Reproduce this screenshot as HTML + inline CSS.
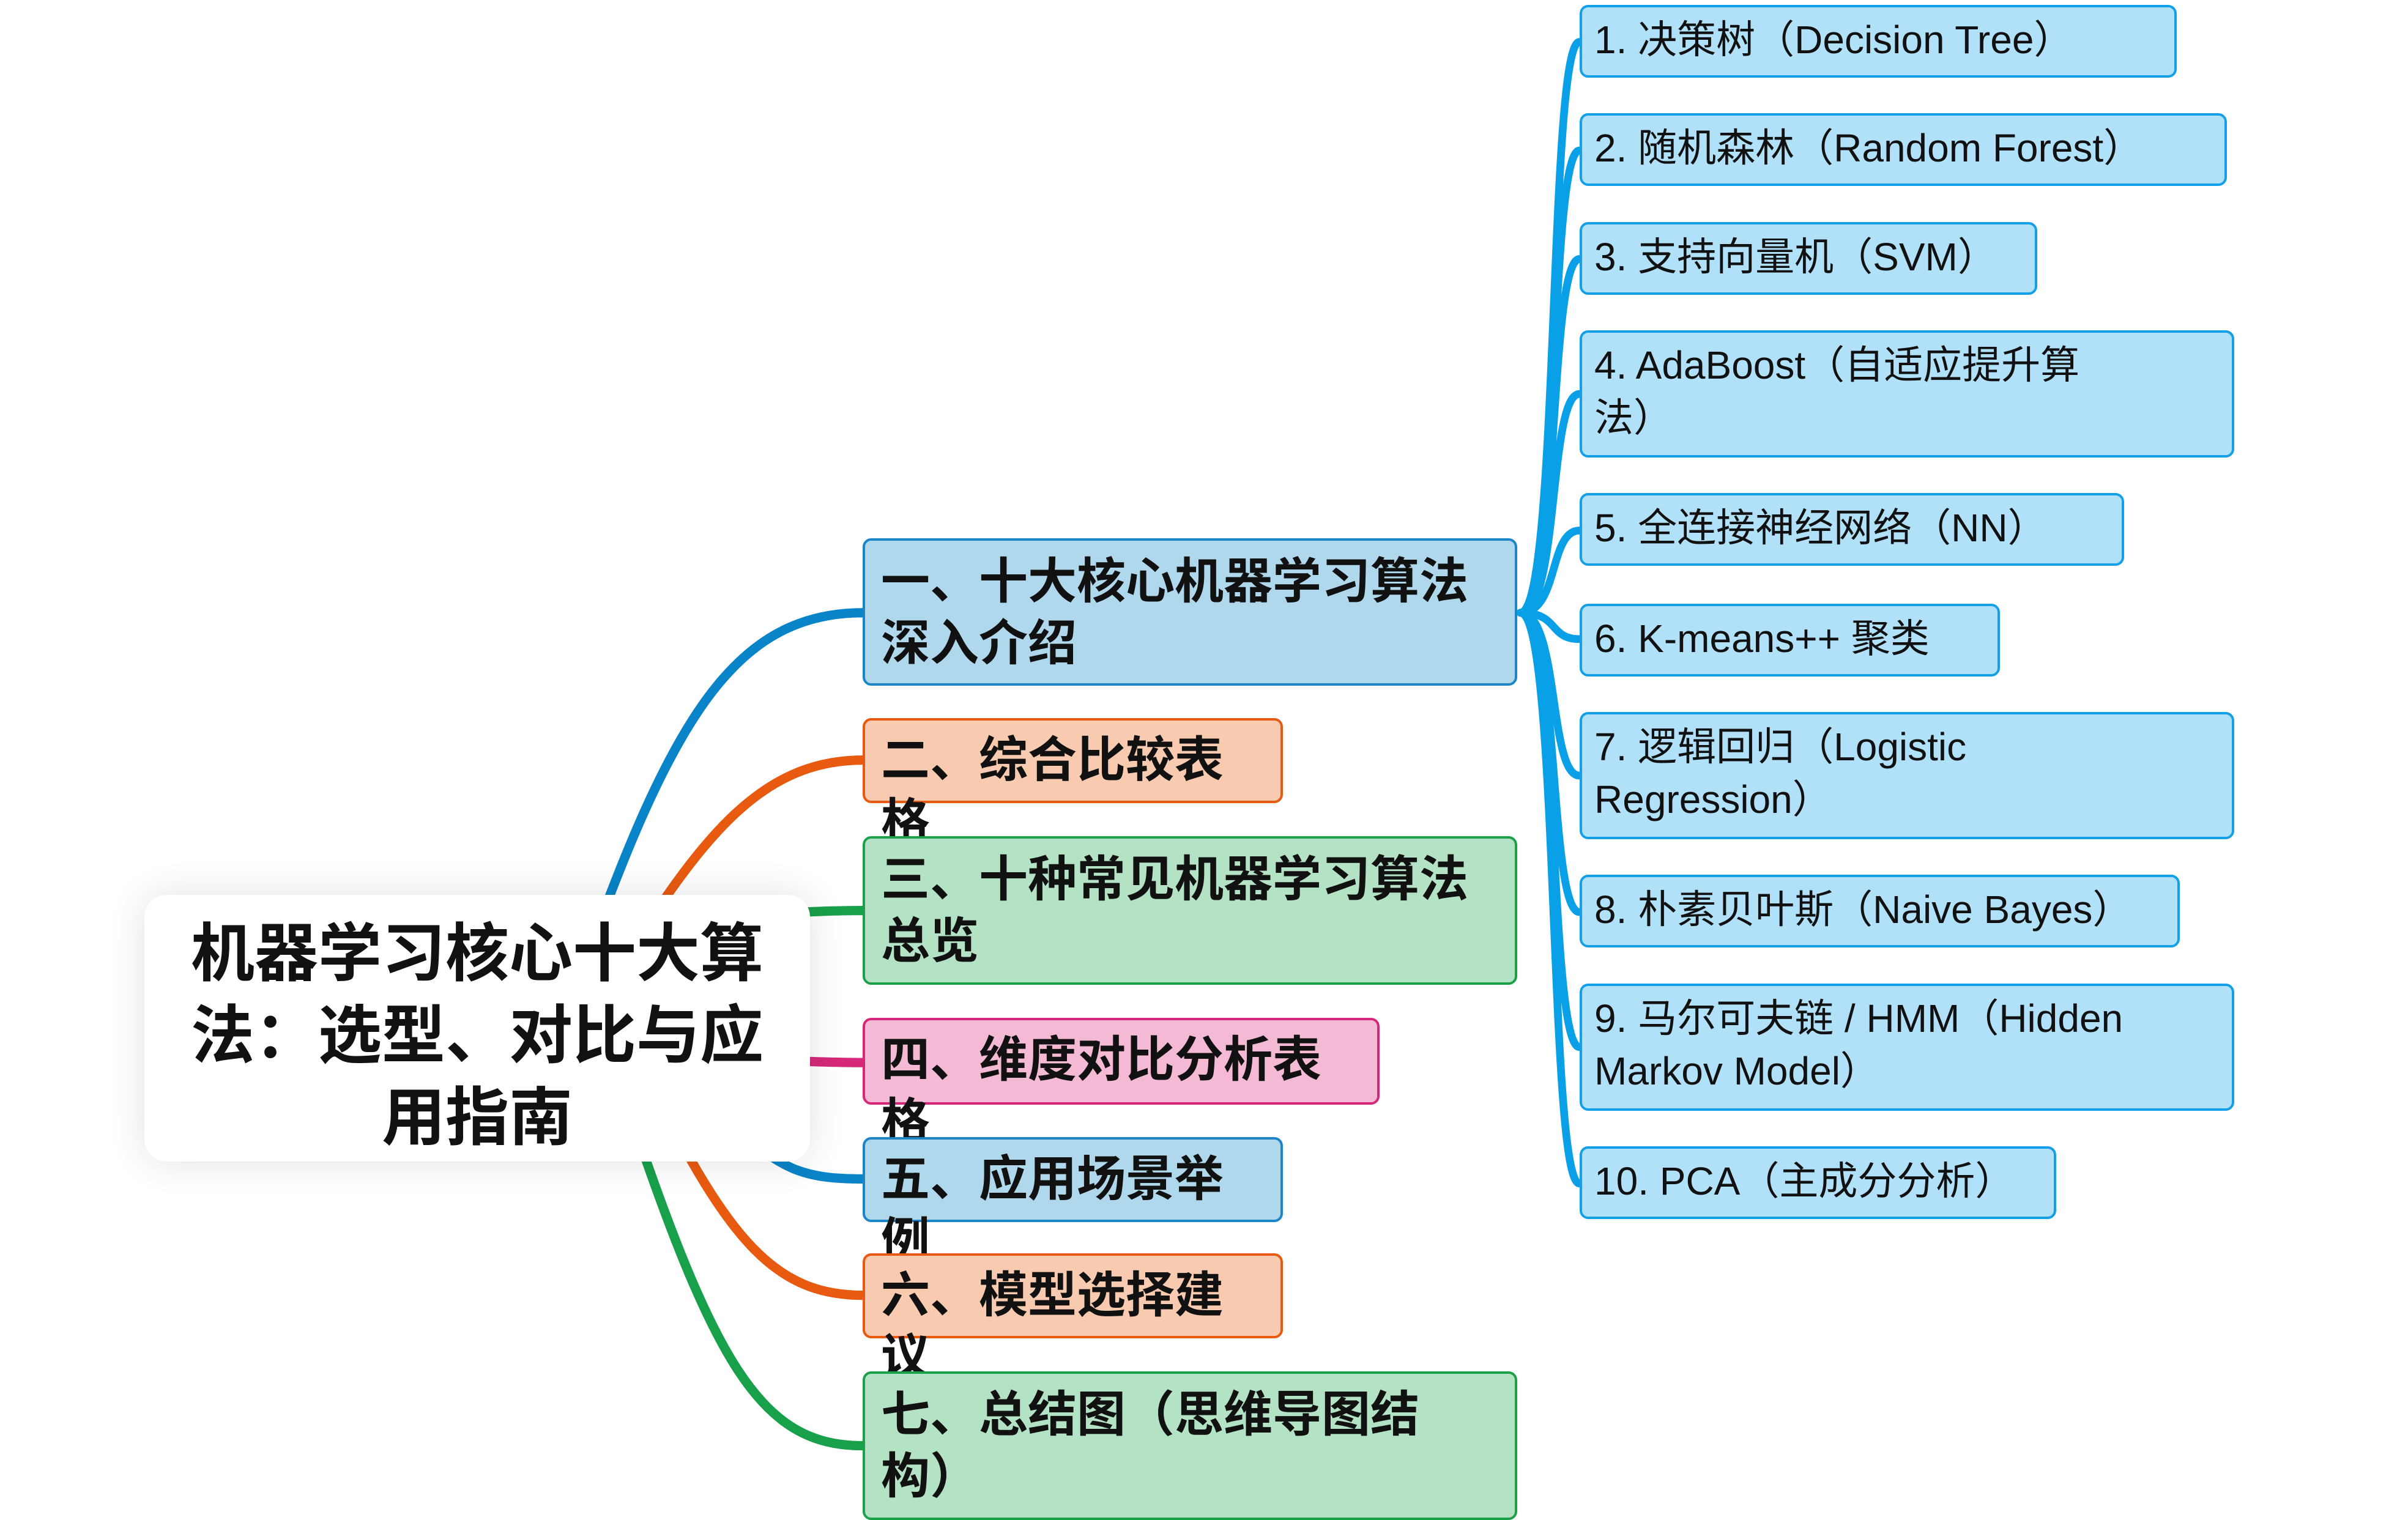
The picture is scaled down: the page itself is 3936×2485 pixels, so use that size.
<!DOCTYPE html>
<html><head><meta charset="utf-8"><style>
body{margin:0;width:3936px;height:2464px;background:#fff;position:relative;overflow:hidden;font-family:"Liberation Sans","Noto Sans CJK SC",sans-serif}
.n{position:absolute;box-sizing:border-box;border-radius:14px;border:4px solid}
.r{left:2582px;background:#b1e1f9;border-color:#14a0e8;font-size:64px;line-height:86px;padding:10px 20px;color:#111}
.m{left:1410px;font-weight:bold;font-size:80px;line-height:101px;padding:16px 26px;color:#111}
.bl{background:#b0d8ec;border-color:#1a86c8}
.or{background:#f8cbb0;border-color:#e85a10}
.gr{background:#b4e2c4;border-color:#1ca04a}
.pk{background:#f4b9d5;border-color:#d6287a}
.root{position:absolute;left:236px;top:1463px;width:1088px;height:436px;background:#fff;border-radius:36px;box-shadow:0 0 60px rgba(0,0,0,0.12);font-weight:bold;font-size:104px;line-height:134px;text-align:center;padding:30px 50px;box-sizing:border-box;color:#111}
</style></head><body>
<svg width="3936" height="2464" viewBox="0 0 1552 971.6" style="position:absolute;left:0;top:0" fill="none">
<g stroke-width="6" stroke-linecap="round">
<path d="M370,640 C430,470 470,395 556,395" stroke="#0a84c8"/>
<path d="M390,640 C450,540 490,490 556,490" stroke="#e85a10"/>
<path d="M480,590 C520,588 530,587 556,587" stroke="#18a04a"/>
<path d="M480,683 C520,684 530,685 556,685" stroke="#d6287a"/>
<path d="M470,720 C500,755 520,760 556,760" stroke="#0a84c8"/>
<path d="M420,700 C470,800 500,835 556,835" stroke="#e85a10"/>
<path d="M400,700 C460,880 490,932 556,932" stroke="#18a04a"/>
</g>
<g stroke="#0aa0e8" stroke-width="5" stroke-linecap="round">
<path d="M980,395 C1005,395 998,27 1018,27"/>
<path d="M980,395 C1005,395 998,97 1018,97"/>
<path d="M980,395 C1005,395 998,167 1018,167"/>
<path d="M980,395 C1005,395 998,254 1018,254"/>
<path d="M980,395 C1005,395 998,342 1018,342"/>
<path d="M980,395 C1005,395 998,412 1018,412"/>
<path d="M980,395 C1005,395 998,500 1018,500"/>
<path d="M980,395 C1005,395 998,588 1018,588"/>
<path d="M980,395 C1005,395 998,675 1018,675"/>
<path d="M980,395 C1005,395 998,763 1018,763"/>
</g>
</svg>
<div class="n r" style="top:8px;width:976px;height:119px">1. 决策树（Decision Tree）</div>
<div class="n r" style="top:185px;width:1058px;height:119px">2. 随机森林（Random Forest）</div>
<div class="n r" style="top:363px;width:748px;height:119px">3. 支持向量机（SVM）</div>
<div class="n r" style="top:540px;width:1070px;height:208px">4. AdaBoost（自适应提升算<br>法）</div>
<div class="n r" style="top:806px;width:890px;height:119px">5. 全连接神经网络（NN）</div>
<div class="n r" style="top:987px;width:687px;height:119px">6. K-means++ 聚类</div>
<div class="n r" style="top:1164px;width:1070px;height:208px">7. 逻辑回归（Logistic<br>Regression）</div>
<div class="n r" style="top:1430px;width:981px;height:119px">8. 朴素贝叶斯（Naive Bayes）</div>
<div class="n r" style="top:1608px;width:1070px;height:208px">9. 马尔可夫链 / HMM（Hidden<br>Markov Model）</div>
<div class="n r" style="top:1874px;width:779px;height:119px">10. PCA（主成分分析）</div>

<div class="n m bl" style="top:880px;width:1070px;height:241px">一、十大核心机器学习算法<br>深入介绍</div>
<div class="n m or" style="top:1174px;width:687px;height:139px;padding-top:14px">二、综合比较表格</div>
<div class="n m gr" style="top:1367px;width:1070px;height:243px">三、十种常见机器学习算法<br>总览</div>
<div class="n m pk" style="top:1664px;width:845px;height:142px;padding-top:14px">四、维度对比分析表格</div>
<div class="n m bl" style="top:1859px;width:687px;height:139px;padding-top:14px">五、应用场景举例</div>
<div class="n m or" style="top:2049px;width:687px;height:139px;padding-top:14px">六、模型选择建议</div>
<div class="n m gr" style="top:2242px;width:1070px;height:243px">七、总结图（思维导图结<br>构）</div>

<div class="root">机器学习核心十大算<br>法：选型、对比与应<br>用指南</div>
</body></html>
